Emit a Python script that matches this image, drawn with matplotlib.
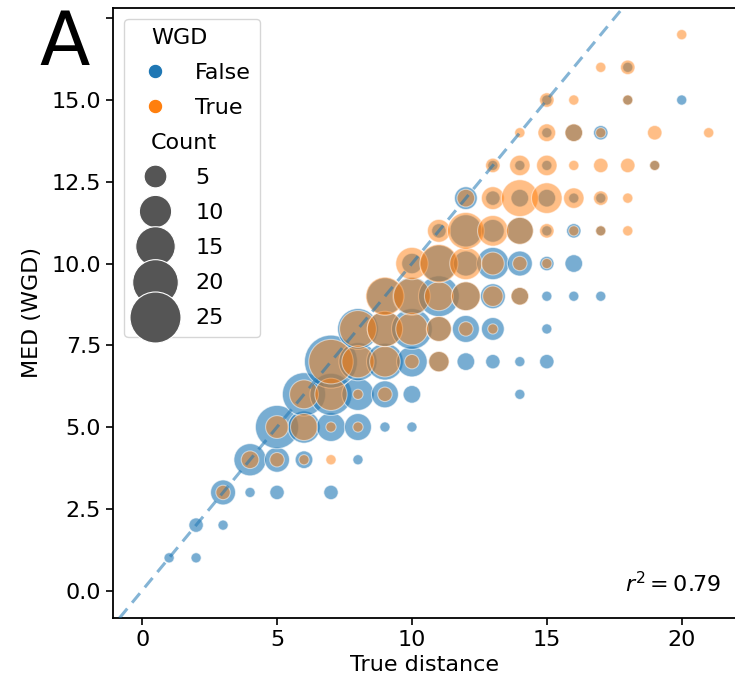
import numpy as np
import matplotlib
matplotlib.use("Agg")
import matplotlib.pyplot as plt
from matplotlib.lines import Line2D

# ---- data: (true distance, MED, count) per WGD group ----
false_x = [1, 2, 2, 3, 3, 4, 5, 7, 4, 5, 6, 8,
           5, 6, 7, 8, 9, 10, 6, 7, 8, 9, 10, 14,
           7, 8, 9, 10, 11, 12, 13, 14, 15,
           8, 9, 10, 11, 12, 13, 15,
           9, 10, 11, 12, 13, 14, 15, 16, 17,
           10, 11, 12, 13, 14, 15, 16,
           11, 12, 13, 14, 15, 16, 17,
           12, 13, 14, 15, 16, 17,
           13, 14, 15, 19, 15, 16, 17, 15, 18, 20, 18]
false_y = [1, 1, 2, 2, 3, 3, 3, 3, 4, 4, 4, 4,
           5, 5, 5, 5, 5, 5, 6, 6, 6, 6, 6, 6,
           7, 7, 7, 7, 7, 7, 7, 7, 7,
           8, 8, 8, 8, 8, 8, 8,
           9, 9, 9, 9, 9, 9, 9, 9, 9,
           10, 10, 10, 10, 10, 10, 10,
           11, 11, 11, 11, 11, 11, 11,
           12, 12, 12, 12, 12, 12,
           13, 13, 13, 13, 14, 14, 14, 15, 15, 15, 16]
false_n = [1, 1, 2, 1, 6, 1, 2, 2, 10, 6, 3, 1,
           18, 10, 8, 7, 1, 1, 18, 17, 10, 7, 3, 1,
           27, 14, 13, 9, 4, 3, 2, 1, 2,
           16, 12, 16, 6, 7, 5, 1,
           13, 14, 16, 8, 6, 3, 1, 1, 1,
           4, 13, 6, 10, 6, 2, 3,
           2, 10, 5, 7, 1, 2, 1,
           5, 2, 3, 3, 1, 1,
           1, 1, 1, 1, 1, 3, 2, 1, 1, 1, 1]

true_x = [3, 4, 5, 6, 7, 5, 6, 7, 8, 6, 7, 8, 9,
          7, 8, 9, 10, 11, 8, 9, 10, 11, 12, 13,
          9, 10, 11, 12, 13, 14, 10, 11, 12, 13, 14, 15,
          11, 12, 13, 14, 15, 16, 17, 18,
          12, 13, 14, 15, 16, 17, 18,
          13, 14, 15, 16, 17, 18, 19,
          14, 15, 16, 17, 19, 21, 15, 16, 18, 17, 18, 20]
true_y = [3, 4, 4, 4, 4, 5, 5, 5, 5, 6, 6, 6, 6,
          7, 7, 7, 7, 7, 8, 8, 8, 8, 8, 8,
          9, 9, 9, 9, 9, 9, 10, 10, 10, 10, 10, 10,
          11, 11, 11, 11, 11, 11, 11, 11,
          12, 12, 12, 12, 12, 12, 12,
          13, 13, 13, 13, 13, 13, 13,
          14, 14, 14, 14, 14, 14, 15, 15, 15, 16, 16, 17]
true_n = [2, 3, 2, 1, 1, 5, 7, 1, 1, 8, 10, 1, 2,
          19, 10, 9, 2, 4, 13, 12, 10, 6, 2, 1,
          14, 13, 8, 8, 4, 3, 10, 14, 10, 5, 2, 1,
          5, 13, 9, 7, 2, 1, 1, 1,
          3, 5, 13, 9, 4, 2, 1,
          2, 4, 4, 1, 2, 2, 1,
          1, 3, 3, 1, 2, 1, 2, 1, 1, 1, 2, 1]

legend_counts = [5, 10, 15, 20, 25]
r2 = 0.79

blue = "#1f77b4"
orange = "#ff7f0e"
k = 54  # marker area (pt^2) per count

plt.rcParams["font.family"] = "DejaVu Sans"

fig = plt.figure(figsize=(7.35, 6.89), dpi=100)
ax = fig.add_axes([113 / 735, 71 / 689, 624 / 735, 610.5 / 689])

ax.scatter(false_x, false_y, s=np.array(false_n) * k, color=blue, alpha=0.6,
           edgecolor="white", linewidth=0.8, zorder=2)
ax.scatter(true_x, true_y, s=np.array(true_n) * k, color=orange, alpha=0.5,
           edgecolor="white", linewidth=0.8, zorder=2)
ax.axline((0, 0), slope=1, color=blue, alpha=0.55, ls="--", lw=2.2,
          dashes=(4, 2.5), zorder=3)

ax.set_xlim(-1.08, 22.05)
ax.set_ylim(-0.84, 17.83)
ax.set_xticks([0, 5, 10, 15, 20])
yt = np.arange(0, 17.6, 2.5)
ax.set_yticks(yt)
ax.set_yticklabels([f"{v:.1f}" for v in yt[:-1]] + [""])
ax.tick_params(labelsize=16, length=5, width=1.2)
for sp in ax.spines.values():
    sp.set_linewidth(1.3)
ax.set_xlabel("True distance", fontsize=16)
ax.set_ylabel("MED (WGD)", fontsize=16, labelpad=7)

ax.text(0.975, 0.035, f"$r^2 = {r2:.2f}$",
        transform=ax.transAxes, ha="right", va="bottom", fontsize=16)

# legend, seaborn style with subtitles
hidden = Line2D([], [], linestyle="none")
hidden.set_visible(False)
hidden2 = Line2D([], [], linestyle="none")
hidden2.set_visible(False)
handles = [hidden,
           Line2D([], [], ls="none", marker="o", markersize=10.5, color=blue,
                  markeredgecolor="white", markeredgewidth=0.8),
           Line2D([], [], ls="none", marker="o", markersize=10.5, color=orange,
                  markeredgecolor="white", markeredgewidth=0.8),
           hidden2]
labels = ["WGD", "False", "True", "Count"]
for c in legend_counts:
    handles.append(Line2D([], [], ls="none", marker="o", markersize=np.sqrt(c * k),
                          color="#555555", markeredgecolor="white",
                          markeredgewidth=0.8))
    labels.append(str(c))
leg = ax.legend(handles, labels, loc="upper left", fontsize=16,
                labelspacing=0.68, borderpad=0.4, handletextpad=0.8,
                borderaxespad=0.5)
col = leg.findobj(matplotlib.offsetbox.VPacker)[0]
for hp in col.get_children():
    da, ta = hp.get_children()
    if not all(a.get_visible() for a in da.get_children()):
        da.set_width(0)

fig.text(39 / 735, 1 - 65 / 689, "A", fontsize=53, va="baseline")

fig.savefig("out.png", dpi=100)
